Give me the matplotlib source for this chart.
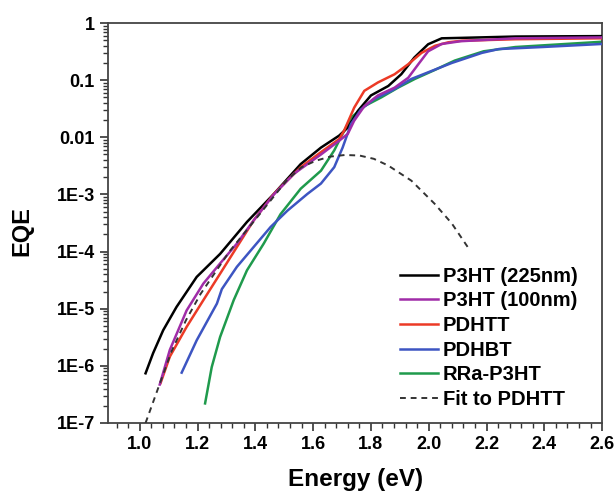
import matplotlib
matplotlib.use('Agg')
import matplotlib.pyplot as plt
from matplotlib.ticker import MultipleLocator, LogLocator, FixedLocator, NullFormatter
import numpy as np

plt.rcParams['font.family'] = ['Liberation Sans', 'DejaVu Sans']
plt.rcParams['font.weight'] = 'bold'

# Data
e_p3ht225 = [1.02, 1.046, 1.081, 1.127, 1.197, 1.278, 1.371, 1.464, 1.557, 1.627, 1.69, 1.72,
             1.755, 1.80, 1.86, 1.905, 1.95, 1.998, 2.045, 2.115, 2.3, 2.6]
q_p3ht225 = [7.4e-7, 1.66e-6, 4.2e-6, 1.07e-5, 3.6e-5, 9.1e-5, 3.3e-4, 1.02e-3, 3.4e-3, 6.6e-3,
             1.07e-2, 1.48e-2, 2.9e-2, 5.4e-2, 7.9e-2, 0.127, 0.248, 0.425, 0.54, 0.55, 0.58, 0.59]

e_p3ht100 = [1.069, 1.104, 1.162, 1.22, 1.278, 1.336, 1.394, 1.464, 1.534, 1.557, 1.627, 1.69,
             1.72, 1.742, 1.777, 1.824, 1.882, 1.929, 1.964, 1.998, 2.045, 2.11, 2.3, 2.6]
q_p3ht100 = [4.7e-7, 1.9e-6, 9.3e-6, 2.75e-5, 6.2e-5, 1.38e-4, 3.5e-4, 1.0e-3, 2.3e-3, 2.8e-3,
             5.0e-3, 8.7e-3, 1.15e-2, 1.95e-2, 3.5e-2, 5.4e-2, 7.4e-2, 0.11, 0.19, 0.32, 0.43,
             0.48, 0.54, 0.56]

e_pdhtt = [1.072, 1.104, 1.162, 1.22, 1.278, 1.336, 1.394, 1.464, 1.534, 1.557, 1.627, 1.69,
           1.707, 1.742, 1.777, 1.824, 1.882, 1.929, 1.975, 2.022, 2.068, 2.115, 2.3, 2.6]
q_pdhtt = [5.0e-7, 1.45e-6, 4.8e-6, 1.41e-5, 4.1e-5, 1.2e-4, 3.5e-4, 1.02e-3, 2.3e-3, 3.0e-3,
           5.5e-3, 9.3e-3, 1.3e-2, 3.3e-2, 6.5e-2, 9.1e-2, 0.127, 0.19, 0.30, 0.40, 0.46, 0.49,
           0.52, 0.54]

e_pdhbt = [1.145, 1.197, 1.267, 1.284, 1.336, 1.394, 1.453, 1.511, 1.58, 1.627, 1.673, 1.702,
           1.731, 1.766, 1.812, 1.871, 1.94, 2.01, 2.08, 2.184, 2.242, 2.393, 2.6]
q_pdhbt = [7.6e-7, 2.8e-6, 1.23e-5, 2.2e-5, 5.4e-5, 1.2e-4, 2.7e-4, 5.2e-4, 1.02e-3, 1.55e-3,
           3.0e-3, 6.6e-3, 1.7e-2, 3.1e-2, 4.7e-2, 6.5e-2, 0.105, 0.145, 0.20, 0.30, 0.35, 0.38,
           0.43]

e_rra = [1.226, 1.249, 1.278, 1.325, 1.371, 1.429, 1.487, 1.557, 1.627, 1.673, 1.702, 1.731,
         1.777, 1.836, 1.894, 1.952, 2.02, 2.09, 2.19, 2.3, 2.6]
q_rra = [2.2e-7, 9.5e-7, 3.2e-6, 1.41e-5, 4.7e-5, 1.38e-4, 4.5e-4, 1.26e-3, 2.6e-3, 5.9e-3,
         1.15e-2, 2.2e-2, 3.5e-2, 5.0e-2, 7.4e-2, 0.105, 0.15, 0.22, 0.32, 0.38, 0.47]

e_fit = [1.02, 1.07, 1.11, 1.16, 1.21, 1.31, 1.41, 1.51, 1.56, 1.61, 1.66, 1.71, 1.76, 1.81,
         1.86, 1.94, 2.02, 2.08, 2.14]
q_fit = [1.0e-7, 5.0e-7, 1.8e-6, 6.3e-6, 1.8e-5, 1.0e-4, 4.2e-4, 1.8e-3, 3.0e-3, 3.9e-3,
         4.6e-3, 4.9e-3, 4.8e-3, 4.2e-3, 3.2e-3, 1.74e-3, 6.9e-4, 3.1e-4, 1.1e-4]

y_ticks = [1e-7, 1e-6, 1e-5, 1e-4, 1e-3, 1e-2, 1e-1, 1]
y_ticklabels = ['1E-7', '1E-6', '1E-5', '1E-4', '1E-3', '0.01', '0.1', '1']

fig = plt.figure(figsize=(6.15, 4.95), dpi=100)
ax = fig.add_axes([0.1756, 0.1455, 0.8034, 0.808])

lw = 1.8
ax.plot(e_p3ht225, q_p3ht225, color='black', lw=lw, label='P3HT (225nm)', zorder=3)
ax.plot(e_p3ht100, q_p3ht100, color='#a02ca8', lw=lw, label='P3HT (100nm)', zorder=5)
ax.plot(e_pdhtt, q_pdhtt, color='#ec3a26', lw=lw, label='PDHTT', zorder=4)
ax.plot(e_pdhbt, q_pdhbt, color='#3d55c2', lw=lw, label='PDHBT', zorder=3)
ax.plot(e_rra, q_rra, color='#1f9a4c', lw=lw, label='RRa-P3HT', zorder=2)
ax.plot(e_fit, q_fit, color='#333333', lw=1.4, ls=(0, (3, 2.5)), label='Fit to PDHTT', zorder=6)

ax.set_yscale('log')
ax.set_xlim(0.89, 2.6)
ax.set_ylim(1e-7, 1)

ax.xaxis.set_major_locator(MultipleLocator(0.2))
ax.xaxis.set_minor_locator(MultipleLocator(0.04))
ax.yaxis.set_major_locator(FixedLocator(y_ticks))
ax.yaxis.set_minor_locator(LogLocator(base=10, subs=np.arange(2, 10), numticks=20))
ax.yaxis.set_minor_formatter(NullFormatter())
ax.set_xticklabels(['%.1f' % t for t in ax.get_xticks()])
ax.set_yticklabels(y_ticklabels)

ax.tick_params(which='major', direction='out', length=6, width=1.2, labelsize=13, color='#333333')
ax.tick_params(which='minor', direction='out', length=3.5, width=1, color='#333333')
ax.tick_params(axis='x', which='both', top=False)
ax.tick_params(axis='y', which='both', right=False)
for lab in ax.get_xticklabels() + ax.get_yticklabels():
    lab.set_fontweight('bold')
for sp in ax.spines.values():
    sp.set_linewidth(1.3)
    sp.set_color('#444444')

ax.set_xlabel('Energy (eV)', fontsize=17.5, fontweight='bold')
ax.set_ylabel('EQE', fontsize=17, fontweight='bold')
ax.xaxis.set_label_coords(0.501, -0.112)
ax.yaxis.set_label_coords(-0.152, 0.48)

ax.legend(loc='lower right', bbox_to_anchor=(0.975, 0.005), frameon=False,
          prop={'size': 14.5, 'weight': 'bold'}, handlelength=1.9, handletextpad=0.25,
          labelspacing=0.28, borderaxespad=0.2)

fig.savefig('out.png', dpi=100)
